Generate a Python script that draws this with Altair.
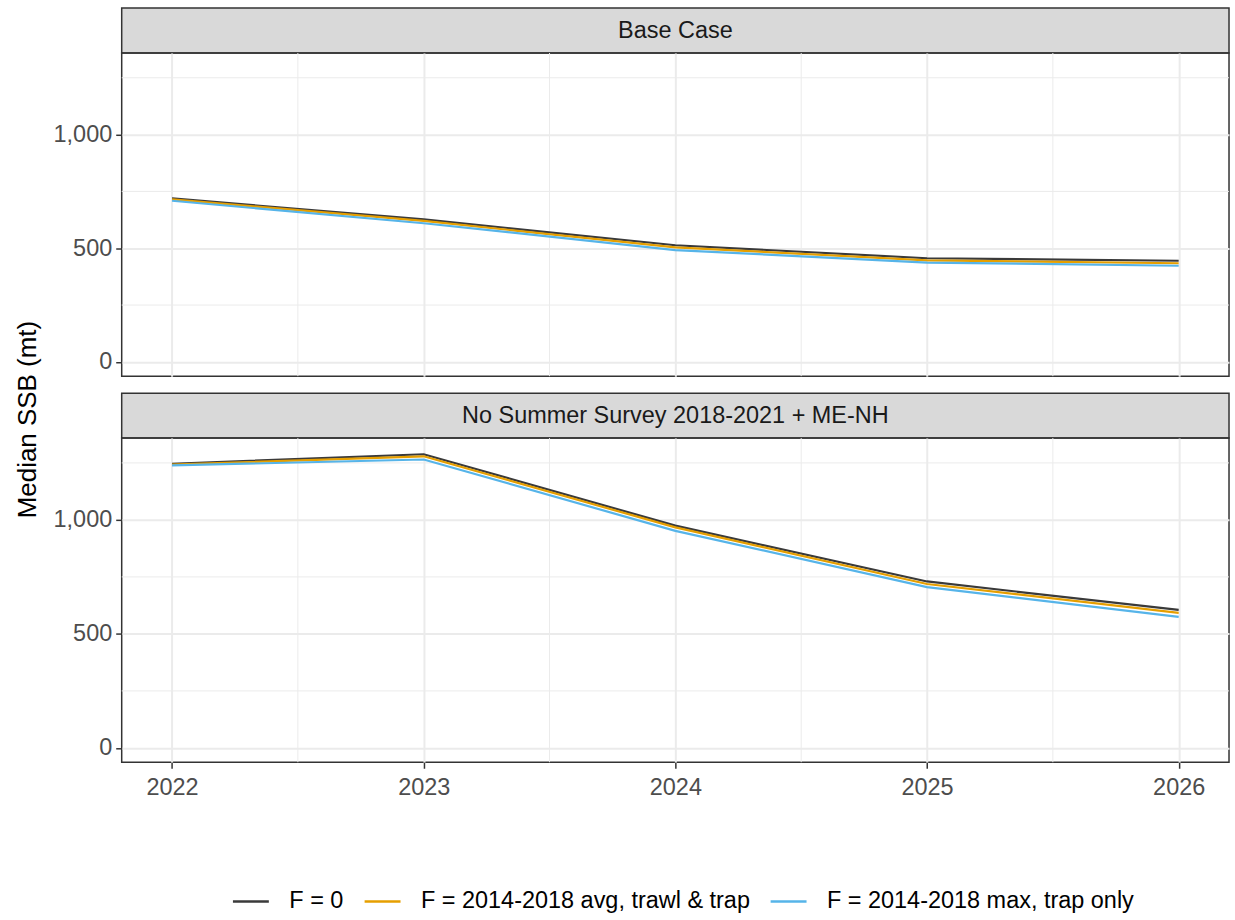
import altair as alt
import pandas as pd

# ---- data ----
years = [2022, 2023, 2024, 2025, 2026]
panels = ["Base Case", "No Summer Survey 2018-2021 + ME-NH"]
series_names = ["F = 0", "F = 2014-2018 avg, trawl & trap", "F = 2014-2018 max, trap only"]
series_colors = ["#3a3a3a", "#E69F00", "#56B4E9"]

base_f0 = [719, 627, 513, 456, 445]
base_avg = [715, 620, 504, 447, 434]
base_max = [709, 610, 492, 437, 423]
nss_f0 = [1246, 1288, 975, 730, 605]
nss_avg = [1243, 1279, 967, 719, 592]
nss_max = [1239, 1265, 952, 705, 575]

y_major = [0, 500, 1000]
y_minor = [250, 750, 1250]
x_minor = [2022.5, 2023.5, 2024.5, 2025.5]

rows = []
for pname, group in zip(panels, [[base_f0, base_avg, base_max], [nss_f0, nss_avg, nss_max]]):
    for sname, vals in zip(series_names, group):
        for yr, v in zip(years, vals):
            rows.append({"panel": pname, "series": sname, "year": yr, "ssb": v})
df = pd.DataFrame(rows)

W = 1110
STRIP_H = 45
GAP = 17
FONT = "Liberation Sans"
TXT = 23.5

x_scale = alt.Scale(domain=[2021.8, 2026.2], nice=False, zero=False)
y_scale = alt.Scale(domain=[-63, 1359], nice=False, zero=False)
color_scale = alt.Scale(domain=series_names, range=series_colors)

GRID = "#ebebeb"


def make_panel(name, bottom, height):
    if bottom:
        x_axis = alt.Axis(values=years, format="d", title=None, grid=True, gridColor=GRID,
                          gridWidth=2, domain=False, ticks=True, tickColor="#333333",
                          tickWidth=1.5, tickSize=6, labelFontSize=TXT, labelColor="#4d4d4d",
                          labelPadding=7, labelFont=FONT)
        y_axis = alt.Axis(values=y_major, format=",d", title="Median SSB (mt)", grid=True,
                          gridColor=GRID, gridWidth=2, domain=False, tickColor="#333333",
                          tickWidth=1.5, tickSize=6, labelFontSize=TXT, labelColor="#4d4d4d",
                          labelPadding=4, labelFont=FONT, titleFontSize=26,
                          titleFontWeight="normal", titleColor="#000000", titleFont=FONT,
                          titleX=-94, titleY=-19, titleAngle=270, titleAlign="center",
                          titleBaseline="middle")
    else:
        x_axis = alt.Axis(values=years, title=None, grid=True, gridColor=GRID, gridWidth=2,
                          domain=False, ticks=False, labels=False)
        y_axis = alt.Axis(values=y_major, format=",d", title=None, grid=True,
                          gridColor=GRID, gridWidth=2, domain=False, tickColor="#333333",
                          tickWidth=1.5, tickSize=6, labelFontSize=TXT, labelColor="#4d4d4d",
                          labelPadding=4, labelFont=FONT)

    minx = alt.Chart(pd.DataFrame({"year": x_minor})).mark_rule(
        color=GRID, strokeWidth=1).encode(x=alt.X("year:Q", scale=x_scale, axis=x_axis))
    miny = alt.Chart(pd.DataFrame({"ssb": y_minor})).mark_rule(
        color=GRID, strokeWidth=1).encode(y=alt.Y("ssb:Q", scale=y_scale, axis=y_axis))
    lines = alt.Chart(df).transform_filter(alt.datum.panel == name).mark_line(
        strokeWidth=2.2).encode(
        x=alt.X("year:Q", scale=x_scale, axis=x_axis),
        y=alt.Y("ssb:Q", scale=y_scale, axis=y_axis),
        color=alt.Color("series:N", scale=color_scale, sort=series_names,
                        legend=alt.Legend(title=None, orient="none", direction="horizontal",
                                          legendX=110, legendY=876,
                                          symbolType="stroke", symbolSize=1296,
                                          symbolStrokeWidth=2.5, labelFontSize=TXT,
                                          labelFont=FONT, labelColor="#000000",
                                          labelLimit=1000,
                                          labelOffset=19, columnPadding=15)),
        order=alt.Order("series:N"),
    )
    return alt.layer(minx, miny, lines).properties(width=W, height=height)


def make_strip(name, top_gap):
    d = pd.DataFrame({"label": [name]})
    rect = alt.Chart(d).mark_rect(fill="#d9d9d9", stroke="#333333", strokeWidth=1.5).encode(
        x=alt.value(0), x2=alt.value(W), y=alt.value(top_gap), y2=alt.value(top_gap + STRIP_H))
    txt = alt.Chart(d).mark_text(fontSize=TXT, color="#1a1a1a", font=FONT).encode(
        x=alt.value(W / 2), y=alt.value(top_gap + STRIP_H / 2), text="label:N")
    return alt.layer(rect, txt).properties(
        width=W, height=top_gap + STRIP_H,
        view=alt.ViewBackground(stroke="transparent"))


chart = alt.vconcat(
    make_strip(panels[0], 0),
    make_panel(panels[0], False, 324),
    make_strip(panels[1], GAP),
    make_panel(panels[1], True, 325),
    spacing=0, bounds="flush",
).properties(
    padding={"left": 14, "top": 5, "right": 4, "bottom": 5}
).configure(font=FONT).configure_view(stroke="#333333", strokeWidth=1.5)

chart.save("out.html", embed_options={"renderer": "svg", "actions": False})
